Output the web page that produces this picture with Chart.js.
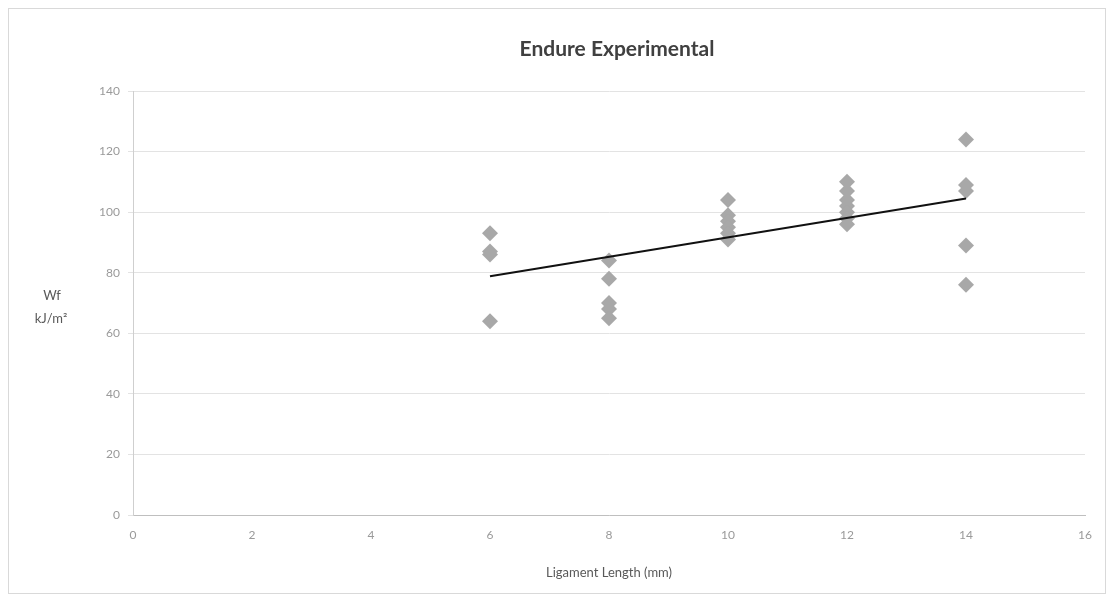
<!DOCTYPE html>
<html>
<head>
<meta charset="utf-8">
<script src="https://cdn.jsdelivr.net/npm/chart.js@4/dist/chart.umd.min.js"></script>
<style>
  body { margin: 0; background: #fff; }
  #box {
    position: absolute; left: 8px; top: 8px;
    width: 1096px; height: 584px;
    border: 1px solid #d9d9d9;
  }
</style>
</head>
<body>
<div id="box"><canvas id="myChart" width="1096" height="584"></canvas></div>
<script>
// ligament length (mm) and measured Wf (kJ/m2), one entry per specimen
var ligament = [6, 6, 6, 6,
                8, 8, 8, 8, 8,
                10, 10, 10, 10, 10, 10,
                12, 12, 12, 12, 12, 12, 12,
                14, 14, 14, 14, 14];
var wf = [93, 87, 86, 64,
          84, 78, 70, 68, 65,
          104, 99, 97, 95, 93, 91,
          110, 107, 104, 102, 100, 98, 96,
          124, 109, 107, 89, 76];

// linear trend line end points
var trendX = [6, 14];
var trendY = [78.8, 104.5];

var xTicks = [0, 2, 4, 6, 8, 10, 12, 14, 16];
var yTicks = [0, 20, 40, 60, 80, 100, 120, 140];

var points = [];
for (var i = 0; i < ligament.length; i++) {
    points.push({x: ligament[i], y: wf[i]});
}
var trend = [];
for (var j = 0; j < trendX.length; j++) {
    trend.push({x: trendX[j], y: trendY[j]});
}

// title sits over the plot area, y axis title is drawn flat
var titles = {
    id: 'titles',
    afterDraw: function(chart) {
        var ctx = chart.ctx;
        var a = chart.chartArea;
        ctx.save();
        ctx.textAlign = 'center';
        ctx.textBaseline = 'middle';
        ctx.fillStyle = '#404040';
        ctx.font = 'bold 21px Lato';
        ctx.fillText('Endure Experimental', (a.left + a.right) / 2 + 8, 40);
        ctx.fillStyle = '#595959';
        ctx.font = '13px Lato';
        ctx.fillText('Wf', 43, 287);
        ctx.fillText('kJ/m\u00B2', 42, 310);
        ctx.restore();
    }
};

var ctx = document.getElementById('myChart').getContext('2d');
var myChart = new Chart(ctx, {
    type: 'scatter',
    data: {
        datasets: [
            {
                label: 'Wf',
                data: points,
                pointStyle: 'rectRot',
                pointRadius: 8,
                pointBackgroundColor: '#a8a8a8',
                pointBorderColor: '#a8a8a8',
                pointBorderWidth: 0,
                order: 2
            },
            {
                label: 'trend',
                type: 'line',
                data: trend,
                borderColor: '#111111',
                borderWidth: 2,
                pointRadius: 0,
                fill: false,
                order: 1
            }
        ]
    },
    options: {
        responsive: false,
        animation: false,
        layout: { padding: { left: 0, right: 20, top: 82, bottom: 0 } },
        plugins: {
            legend: { display: false },
            tooltip: { enabled: false },
            title: { display: false }
        },
        scales: {
            x: {
                type: 'linear',
                min: 0, max: 16,
                afterBuildTicks: function(s) { s.ticks = xTicks.map(function(v) { return {value: v}; }); },
                ticks: { color: '#9a9a9a', font: { family: 'Lato', size: 12 }, padding: 13 },
                grid: { display: false, drawTicks: false },
                border: { color: '#bfbfbf', width: 1 },
                title: {
                    display: true,
                    text: 'Ligament Length (mm)',
                    color: '#595959',
                    font: { family: 'Lato', size: 13 },
                    padding: { top: 10, bottom: 12 }
                }
            },
            y: {
                type: 'linear',
                min: 0, max: 140,
                afterBuildTicks: function(s) { s.ticks = yTicks.map(function(v) { return {value: v}; }); },
                afterFit: function(s) { s.width = 124; },
                ticks: { color: '#9a9a9a', font: { family: 'Lato', size: 12 }, padding: 8 },
                grid: { color: '#e3e3e3', tickLength: 5 },
                border: { color: '#cfcfcf', width: 1 }
            }
        }
    },
    plugins: [titles]
});
</script>
</body>
</html>
